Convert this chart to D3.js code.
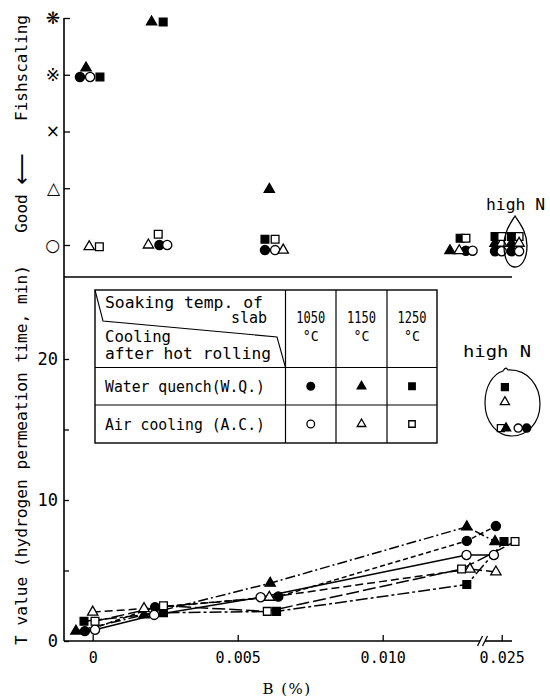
<!DOCTYPE html>
<html>
<head>
<meta charset="utf-8">
<script src="https://cdn.jsdelivr.net/npm/d3@7"></script>
<style>
  body { margin: 0; background: #fff; }
  svg { display: block; }
</style>
</head>
<body>
<div id="chart"></div>
<script>
// ---- data ----
// T value (hydrogen permeation time, min) against B (%)
const wq1050_B = [-0.00027, 0.00215, 0.0064, 0.0129, 0.0248];
const wq1050_T = [0.7, 2.4, 3.15, 7.1, 8.15];
const wq1150_B = [-0.00058, 0.00177, 0.00612, 0.0129, 0.02477];
const wq1150_T = [0.7, 1.85, 4.1, 8.1, 7.05];
const wq1250_B = [-0.0003, 0.00244, 0.00634, 0.0129, 0.02508];
const wq1250_T = [1.4, 2.0, 2.1, 4.0, 7.05];
const ac1050_B = [0.00008, 0.00212, 0.00579, 0.01289, 0.02473];
const ac1050_T = [0.8, 1.85, 3.1, 6.1, 6.1];
const ac1150_B = [0.0, 0.00177, 0.00609, 0.01301, 0.0248];
const ac1150_T = [2.05, 2.3, 3.1, 5.1, 4.9];
const ac1250_B = [0.00008, 0.00244, 0.00602, 0.01272, 0.02546];
const ac1250_T = [1.4, 2.5, 2.1, 5.1, 7.05];

// fishscaling rating (0 = ○ ... 4 = ❋), slightly offset where symbols are stacked
const fs_wq1050_B = [-0.00044, 0.0023, 0.00594, 0.01287, 0.02477];
const fs_wq1050_R = [2.96, 0.0, -0.09, -0.1, -0.11];
const fs_wq1150_B = [-0.00023, 0.00203, 0.00609, 0.01232, 0.02477];
const fs_wq1150_R = [3.12, 3.93, 0.98, -0.1, 0.03];
const fs_wq1250_B = [0.00025, 0.00243, 0.00594, 0.01267, 0.02477];
const fs_wq1250_R = [2.96, 3.93, 0.1, 0.12, 0.15];
const fs_ac1050_B = [-0.00009, 0.00257, 0.00629, 0.0131, 0.025];
const fs_ac1050_R = [2.96, 0.0, -0.09, -0.1, -0.11];
const fs_ac1150_B = [-0.00012, 0.00192, 0.00657, 0.01264, 0.025];
const fs_ac1150_R = [-0.03, 0.0, -0.09, -0.1, 0.03];
const fs_ac1250_B = [0.00023, 0.00226, 0.00629, 0.01287, 0.025];
const fs_ac1250_R = [-0.03, 0.19, 0.1, 0.12, 0.15];

// high N samples
const highN_keys = ["wq1250", "wq1150", "wq1050", "ac1250", "ac1150", "ac1050"];
const highN_fsB = [0.02534, 0.02534, 0.02534, 0.0256, 0.0256, 0.0256];
const highN_fsR = [0.15, 0.03, -0.11, 0.15, 0.03, -0.11];
const highN_tKeys = ["wq1250", "ac1150", "ac1250", "wq1150", "ac1050", "wq1050"];
const highN_B = [0.02511, 0.02511, 0.02497, 0.02515, 0.02557, 0.02586];
const highN_T = [18.0, 16.95, 15.1, 15.1, 15.1, 15.1];

const ratingLabels = ["○", "△", "×", "※", "❋"];
const bTicks = [0, 0.005, 0.010, 0.025];
const bTickLabels = ["0", "0.005", "0.010", "0.025"];
const tTicks = [0, 5, 10, 15, 20];

const tempLabels = ["1050", "1150", "1250"];
const coolingLabels = ["Water quench(W.Q.)", "Air cooling (A.C.)"];

// ---- series styling ----
const series = [
  {key: "wq1050", shape: d3.symbolCircle,   filled: true,  dash: "5,3",        B: wq1050_B, T: wq1050_T, fB: fs_wq1050_B, fR: fs_wq1050_R},
  {key: "wq1150", shape: d3.symbolTriangle, filled: true,  dash: "10,3,2,3",   B: wq1150_B, T: wq1150_T, fB: fs_wq1150_B, fR: fs_wq1150_R},
  {key: "wq1250", shape: d3.symbolSquare,   filled: true,  dash: "12,3,3,3",   B: wq1250_B, T: wq1250_T, fB: fs_wq1250_B, fR: fs_wq1250_R},
  {key: "ac1050", shape: d3.symbolCircle,   filled: false, dash: null,         B: ac1050_B, T: ac1050_T, fB: fs_ac1050_B, fR: fs_ac1050_R},
  {key: "ac1150", shape: d3.symbolTriangle, filled: false, dash: "8,4",        B: ac1150_B, T: ac1150_T, fB: fs_ac1150_B, fR: fs_ac1150_R},
  {key: "ac1250", shape: d3.symbolSquare,   filled: false, dash: "13,4",       B: ac1250_B, T: ac1250_T, fB: fs_ac1250_B, fR: fs_ac1250_R}
];
const byKey = {};
series.forEach(s => byKey[s.key] = s);

const mono = "'DejaVu Sans Mono', 'Liberation Mono', monospace";

const svg = d3.select("#chart").append("svg")
  .attr("width", 550)
  .attr("height", 699);

// broken B axis: 0.0135 .. 0.0245 is cut out
const x = d3.scaleLinear()
  .domain([-0.001, 0.0135, 0.0245, 0.026])
  .range([63.7, 484.2, 487.2, 530.7]);
const yT = d3.scaleLinear().domain([0, 20]).range([641, 359]);
const yR = d3.scaleLinear().domain([0, 4]).range([245, 18]);

function symSize(shape) {
  if (shape === d3.symbolTriangle) return 46;
  if (shape === d3.symbolSquare) return 60;
  return 66;
}

function drawMarker(g, s, px, py, scale) {
  g.append("path")
    .attr("d", d3.symbol().type(s.shape).size(symSize(s.shape) * (scale || 1))())
    .attr("transform", `translate(${px},${py})`)
    .attr("fill", s.filled ? "#000" : "#fff")
    .attr("stroke", "#000")
    .attr("stroke-width", 1.3);
}

// ---- axes frame ----
svg.append("line")
  .attr("x1", 64).attr("x2", 64)
  .attr("y1", yR(4)).attr("y2", yT(0))
  .attr("stroke", "#000").attr("stroke-width", 1.6);

// separator between the two panels
svg.append("line")
  .attr("x1", 64).attr("x2", 512)
  .attr("y1", 277).attr("y2", 277)
  .attr("stroke", "#000").attr("stroke-width", 1.3);

// bottom axis line with break
const breakX = 482;
svg.append("line")
  .attr("x1", 64).attr("x2", breakX - 2)
  .attr("y1", yT(0)).attr("y2", yT(0))
  .attr("stroke", "#000").attr("stroke-width", 1.6);
svg.append("line")
  .attr("x1", breakX + 3).attr("x2", 512)
  .attr("y1", yT(0)).attr("y2", yT(0))
  .attr("stroke", "#000").attr("stroke-width", 1.6);
[breakX - 2, breakX + 3].forEach(bx => {
  svg.append("line")
    .attr("x1", bx - 2.5).attr("x2", bx + 2.5)
    .attr("y1", yT(0) + 5).attr("y2", yT(0) - 5)
    .attr("stroke", "#000").attr("stroke-width", 1.2);
});

const gx = svg.append("g")
  .attr("transform", `translate(0,${yT(0)})`)
  .call(d3.axisBottom(x).tickValues(bTicks).tickSize(-6).tickPadding(11)
    .tickFormat((d, i) => bTickLabels[i]));
gx.select(".domain").remove();

const gT = svg.append("g")
  .attr("transform", "translate(64,0)")
  .call(d3.axisLeft(yT).tickValues(tTicks).tickSize(-5).tickPadding(6)
    .tickFormat(d => d % 10 === 0 ? d : ""));
gT.select(".domain").remove();

const gR = svg.append("g")
  .attr("transform", "translate(64,0)")
  .call(d3.axisLeft(yR).tickValues([0, 1, 2, 3, 4]).tickSize(-6).tickPadding(4)
    .tickFormat(i => ratingLabels[i]));
gR.select(".domain").remove();

gx.attr("font-family", mono).attr("font-size", 15);
gT.attr("font-family", mono).attr("font-size", 17);
gR.attr("font-family", "'DejaVu Sans', sans-serif").attr("font-size", 17);
svg.selectAll(".tick line").attr("stroke-width", 1.3);

// axis titles
svg.append("text")
  .attr("transform", "translate(21,68) rotate(-90)")
  .attr("text-anchor", "middle").attr("dominant-baseline", "central")
  .attr("font-family", mono).attr("font-size", 16)
  .text("Fishscaling");
const good = svg.append("text")
  .attr("transform", "translate(21,193) rotate(-90)")
  .attr("text-anchor", "middle").attr("dominant-baseline", "central")
  .attr("font-family", mono).attr("font-size", 16);
good.append("tspan").text("Good ");
good.append("tspan").attr("font-family", "'DejaVu Sans', sans-serif").attr("font-size", 22).text("⟵");
svg.append("text")
  .attr("transform", "translate(21,455) rotate(-90)")
  .attr("text-anchor", "middle").attr("dominant-baseline", "central")
  .attr("font-family", mono).attr("font-size", 16)
  .attr("textLength", 380).attr("lengthAdjust", "spacingAndGlyphs")
  .text("T value (hydrogen permeation time, min)");
svg.append("text")
  .attr("x", 287).attr("y", 694)
  .attr("text-anchor", "middle")
  .attr("font-family", "'DejaVu Serif', 'Liberation Serif', serif").attr("font-size", 15)
  .attr("letter-spacing", 1.5)
  .text("B (%)");

// ---- T value lines and markers ----
const line = d3.line().x(d => x(d[0])).y(d => yT(d[1]));
series.forEach(s => {
  svg.append("path")
    .datum(d3.zip(s.B, s.T))
    .attr("d", line)
    .attr("fill", "none")
    .attr("stroke", "#000")
    .attr("stroke-width", 1.5)
    .attr("stroke-dasharray", s.dash);
});
const gMarks = svg.append("g");
series.forEach(s => {
  s.B.forEach((b, i) => drawMarker(gMarks, s, x(b), yT(s.T[i])));
});

// ---- fishscaling markers ----
series.forEach(s => {
  s.fB.forEach((b, i) => drawMarker(gMarks, s, x(b), yR(s.fR[i])));
});
highN_keys.forEach((k, i) => drawMarker(gMarks, byKey[k], x(highN_fsB[i]), yR(highN_fsR[i])));

// high N outline (top panel)
svg.append("path")
  .attr("d", "M515,216 C520,224 527,232 527,246 C527,260 521,267 515,267 C509,267 504,260 504,246 C504,232 510,224 515,216 Z")
  .attr("fill", "none").attr("stroke", "#000").attr("stroke-width", 1.3);
svg.append("text")
  .attr("x", 486).attr("y", 210)
  .attr("font-family", mono).attr("font-size", 16)
  .attr("textLength", 59).attr("lengthAdjust", "spacingAndGlyphs")
  .text("high N");

// high N markers (bottom panel)
highN_tKeys.forEach((k, i) => drawMarker(gMarks, byKey[k], x(highN_B[i]), yT(highN_T[i]), 0.8));
svg.append("path")
  .attr("d", "M503,371 C506,366 507,369 508,370 C528,369 540,386 540,404 C540,423 527,436 512,436 C497,436 485,422 485,403 C485,386 493,374 503,371 Z")
  .attr("fill", "none").attr("stroke", "#000").attr("stroke-width", 1.2);
svg.append("text")
  .attr("x", 463).attr("y", 357)
  .attr("font-family", mono).attr("font-size", 16)
  .attr("textLength", 68).attr("lengthAdjust", "spacingAndGlyphs")
  .text("high N");

// ---- legend table ----
const tbl = svg.append("g");
const colX = [95, 285.5, 336, 387, 437];
const rowY = [290, 367.5, 405, 443];
tbl.append("rect")
  .attr("x", colX[0]).attr("y", rowY[0])
  .attr("width", colX[4] - colX[0]).attr("height", rowY[3] - rowY[0])
  .attr("fill", "#fff").attr("stroke", "#000").attr("stroke-width", 1.4);
colX.slice(1, 4).forEach(cx => {
  tbl.append("line").attr("x1", cx).attr("x2", cx).attr("y1", rowY[0]).attr("y2", rowY[3])
    .attr("stroke", "#000").attr("stroke-width", 1.2);
});
rowY.slice(1, 3).forEach(ry => {
  tbl.append("line").attr("x1", colX[0]).attr("x2", colX[4]).attr("y1", ry).attr("y2", ry)
    .attr("stroke", "#000").attr("stroke-width", 1.2);
});
tbl.append("path")
  .attr("d", "M95,290 L103,321 L277,337 L285.5,367.5")
  .attr("fill", "none").attr("stroke", "#000").attr("stroke-width", 1.1);

function cellText(txt, tx, ty, anchor, len, size) {
  const t = tbl.append("text")
    .attr("x", tx).attr("y", ty)
    .attr("text-anchor", anchor || "start")
    .attr("font-family", mono).attr("font-size", size || 15)
    .text(txt);
  if (len) t.attr("textLength", len).attr("lengthAdjust", "spacingAndGlyphs");
  return t;
}
cellText("Soaking temp. of", 105, 308, "start", 158);
cellText("slab", 267, 323, "end");
cellText("Cooling", 105, 342, "start", 66);
cellText("after hot rolling", 105, 359, "start", 166);
tempLabels.forEach((lab, i) => {
  const cx = (colX[i + 1] + colX[i + 2]) / 2;
  cellText(lab, cx, 323, "middle", 29, 15);
  cellText("°C", cx, 341, "middle", 16, 14);
});
coolingLabels.forEach((lab, j) => {
  cellText(lab, 105, 392 + j * 37.5, "start", 160);
  for (let i = 0; i < 3; i++) {
    const s = series[j * 3 + i];
    drawMarker(tbl, s, (colX[i + 1] + colX[i + 2]) / 2, (rowY[j + 1] + rowY[j + 2]) / 2, 0.7);
  }
});
</script>
</body>
</html>
